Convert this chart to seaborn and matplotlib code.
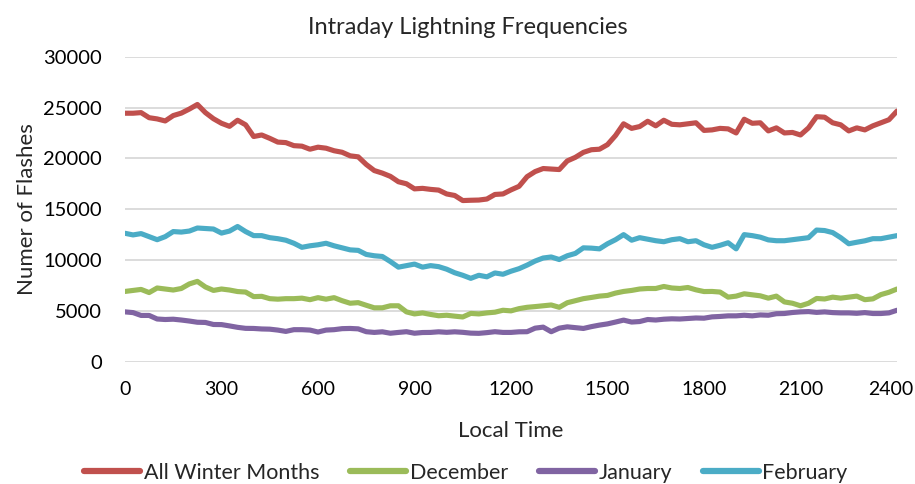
import numpy as np
import pandas as pd
import matplotlib
matplotlib.use("Agg")
import matplotlib.pyplot as plt
from matplotlib.transforms import ScaledTranslation
import seaborn as sns

# ---------------- data ----------------
local_time = list(range(0, 2401, 25))

all_winter = [
    24440, 24440, 24500, 24000, 23880, 23680, 24210, 24450, 24850, 25300, 24500, 23900,
    23450, 23150, 23750, 23300, 22150, 22300, 21970, 21600, 21550, 21250, 21200, 20900,
    21100, 21000, 20750, 20600, 20250, 20150, 19400, 18800, 18550, 18230, 17700, 17500,
    17000, 17050, 16950, 16880, 16500, 16350, 15850, 15880, 15900, 16000, 16450, 16500,
    16900, 17250, 18200, 18700, 19000, 18950, 18900, 19750, 20100, 20590, 20850, 20900,
    21350, 22250, 23400, 22950, 23130, 23650, 23200, 23750, 23350, 23300, 23400, 23500,
    22750, 22800, 22950, 22900, 22500, 23850, 23450, 23500, 22700, 23000, 22500, 22550,
    22300, 23000, 24100, 24050, 23500, 23300, 22700, 23000, 22800, 23200, 23500, 23800,
    24650,
]

december = [
    6910, 7010, 7110, 6800, 7250, 7150, 7050, 7200, 7650, 7900, 7350, 7010,
    7150, 7050, 6900, 6850, 6400, 6430, 6200, 6150, 6200, 6200, 6250, 6100,
    6300, 6150, 6300, 6000, 5750, 5810, 5550, 5300, 5300, 5500, 5500, 4900,
    4700, 4800, 4650, 4520, 4570, 4480, 4400, 4750, 4700, 4800, 4870, 5060,
    5000, 5220, 5350, 5420, 5500, 5580, 5350, 5800, 6000, 6200, 6320, 6450,
    6520, 6750, 6910, 7010, 7150, 7200, 7200, 7400, 7250, 7200, 7300, 7070,
    6900, 6910, 6850, 6350, 6450, 6680, 6580, 6480, 6250, 6450, 5880, 5750,
    5500, 5750, 6220, 6170, 6350, 6250, 6350, 6450, 6100, 6180, 6600, 6830,
    7150,
]

january = [
    4900, 4830, 4550, 4550, 4200, 4150, 4180, 4100, 4000, 3880, 3860, 3660,
    3650, 3520, 3380, 3280, 3270, 3220, 3200, 3110, 2980, 3150, 3150, 3110,
    2920, 3110, 3150, 3250, 3270, 3230, 2950, 2880, 2940, 2800, 2880, 2950,
    2800, 2870, 2880, 2940, 2890, 2940, 2890, 2810, 2790, 2860, 2950, 2880,
    2880, 2940, 2950, 3300, 3400, 2950, 3300, 3430, 3350, 3270, 3450, 3600,
    3720, 3900, 4090, 3900, 3950, 4150, 4100, 4180, 4220, 4200, 4250, 4300,
    4280, 4410, 4450, 4510, 4510, 4570, 4510, 4600, 4570, 4720, 4740, 4840,
    4900, 4930, 4850, 4900, 4830, 4800, 4800, 4760, 4830, 4740, 4740, 4800,
    5060,
]

february = [
    12630, 12470, 12600, 12300, 12000, 12300, 12800, 12750, 12850, 13150, 13100, 13050,
    12650, 12850, 13300, 12800, 12400, 12400, 12200, 12100, 11950, 11650, 11250, 11400,
    11500, 11650, 11400, 11200, 11000, 10950, 10550, 10420, 10350, 9850, 9300, 9450,
    9600, 9300, 9450, 9350, 9100, 8750, 8500, 8200, 8500, 8350, 8730, 8600,
    8900, 9150, 9500, 9900, 10200, 10300, 10050, 10420, 10650, 11200, 11170, 11100,
    11600, 12000, 12500, 11950, 12200, 12050, 11900, 11800, 12000, 12100, 11800, 11900,
    11500, 11250, 11450, 11700, 11100, 12500, 12400, 12250, 11980, 11900, 11900, 12000,
    12100, 12200, 12950, 12900, 12700, 12200, 11600, 11750, 11890, 12100, 12100, 12250,
    12400,
]

series_names = ["All Winter Months", "December", "January", "February"]
x_ticks = [0, 300, 600, 900, 1200, 1500, 1800, 2100, 2400]
y_ticks = [0, 5000, 10000, 15000, 20000, 25000, 30000]

# ---------------- build long-form table ----------------
frames = []
for name, vals in zip(series_names, [all_winter, december, january, february]):
    assert len(vals) == len(local_time), (name, len(vals))
    frames.append(pd.DataFrame({"Local Time": local_time, "Flashes": vals, "Series": name}))
df = pd.concat(frames, ignore_index=True)

# ---------------- style ----------------
sns.set_theme(style="white")
plt.rcParams["font.family"] = ["Lato", "DejaVu Sans"]
FS = 14

palette = {
    "All Winter Months": "#C0504D",
    "December": "#9BBB59",
    "January": "#8064A2",
    "February": "#4BACC6",
}

W, H = 915, 484
fig = plt.figure(figsize=(W / 100, H / 100), dpi=100)
ax = fig.add_axes([125 / W, 1 - 361.7 / H, (897 - 125) / W, (361.7 - 56.7) / H])

sns.lineplot(data=df, x="Local Time", y="Flashes", hue="Series",
             hue_order=series_names, palette=palette, linewidth=3.7,
             ax=ax, legend=True)

ax.set_xlim(0, 2400)
ax.set_ylim(0, 30000)
ax.set_xticks(x_ticks)
ax.set_yticks(y_ticks)
ax.set_xticklabels([str(t) for t in x_ticks], fontsize=FS, color="#000000")
ax.set_yticklabels([str(t) for t in y_ticks], fontsize=FS + 0.5, color="#000000")
ax.tick_params(axis="x", length=0, pad=14)
ax.tick_params(axis="y", length=0, pad=16.5)

# keep the last x tick label inside the figure, as in the reference
last = ax.get_xticklabels()[-1]
last.set_transform(last.get_transform() + ScaledTranslation(-6 / 100, 0, fig.dpi_scale_trans))

ax.grid(axis="y", color="#D9D9D9", linewidth=1.3)
ax.set_axisbelow(True)
for s in ax.spines.values():
    s.set_visible(False)

ax.set_xlabel("Local Time", fontsize=16)
ax.set_ylabel("Numer of Flashes", fontsize=16)
ax.xaxis.set_label_coords((511 - 125) / 772, (361.7 - 431) / 305)
ax.xaxis.label.set_va("center")
ax.yaxis.set_label_coords((27 - 125) / 772, (361.7 - 209) / 305)
ax.yaxis.label.set_va("center")
ax.yaxis.label.set_ha("center")

fig.text(468 / W, 1 - 27 / H, "Intraday Lightning Frequencies", fontsize=17,
         ha="center", va="center")

handles, labels = ax.get_legend_handles_labels()
ax.get_legend().remove()
leg = fig.legend(handles, labels, loc="center", bbox_to_anchor=(466 / W, 1 - 473 / H),
                 ncol=4, frameon=False, fontsize=15.5, handlelength=2.6,
                 handletextpad=0.15, columnspacing=1.45)
for h in leg.get_lines():
    h.set_linewidth(4.5)

fig.savefig("out.png", dpi=100)
